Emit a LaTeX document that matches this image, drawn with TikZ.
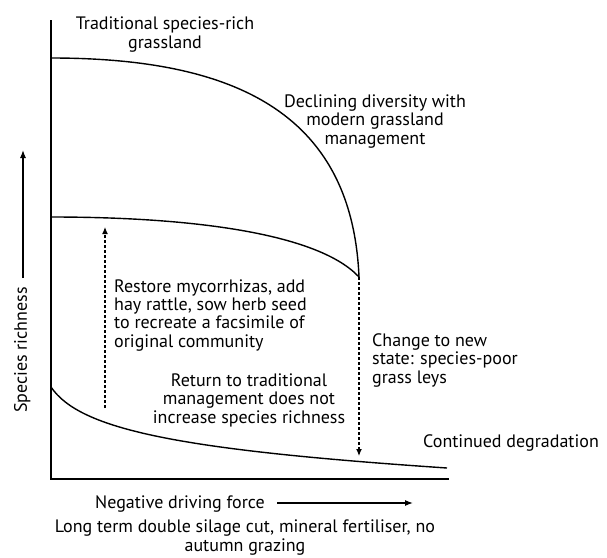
\documentclass[tikz,border=0pt]{standalone}
\usepackage{fontspec}
\setmainfont{PT Sans}
\usetikzlibrary{arrows.meta}
\tikzset{
  lbl/.style={inner sep=0pt, font=\fontsize{18}{18.3}\selectfont},
  curve/.style={line width=1.4pt},
  axis/.style={line width=1.6pt},
  dasharrow/.style={line width=1.2pt, dash pattern=on 3pt off 2pt, -{Latex[length=7pt,width=6pt]}},
  solidarrow/.style={line width=1.2pt, -{Latex[length=8pt,width=6pt]}}
}
\begin{document}
\begin{tikzpicture}[x=1pt,y=-1pt]
\useasboundingbox (0,0) rectangle (607,557);
% axes
\coordinate (ytop) at (51,20);
\coordinate (origin) at (51,479);
\coordinate (xend) at (449,479);
\draw[axis] (ytop) -- (origin) -- (xend);
% curves
\coordinate (t0) at (51,58);
\coordinate (cusp) at (359,277);
\coordinate (m0) at (51,217);
\coordinate (b0) at (51,387);
\coordinate (b1) at (447,468);
\draw[curve] (t0) .. controls (230,58) and (352,110) .. (cusp);
\draw[curve] (m0) .. controls (200,217) and (320,235) .. (cusp);
\draw[curve] (b0) .. controls (80,430) and (180,450) .. (b1);
% dashed arrows
\coordinate (upA) at (105,408);
\coordinate (upB) at (105,227);
\draw[dasharrow] (upA) -- (upB);
\coordinate (downB) at (359,456);
\draw[dasharrow] (cusp) -- (downB);
% y label
\node[lbl, rotate=90, anchor=base] (ylab) at (27,350) {Species richness};
\coordinate (yarA) at (23,278);
\coordinate (yarB) at (23,150);
\draw[solidarrow] (yarA) -- (yarB);
% x label
\node[lbl, anchor=base west] (xlab) at (95,508) {Negative driving force};
\coordinate (xarA) at (277,503);
\coordinate (xarB) at (413,503);
\draw[solidarrow] (xarA) -- (xarB);
\node[lbl, align=center, anchor=base] (xsub) at (245,551) {Long term double silage cut, mineral fertiliser, no\\autumn grazing};
% annotations
\node[lbl, align=center, anchor=base] (trad) at (165,48) {Traditional species-rich\\grassland};
\node[lbl, align=center, anchor=base] (decl) at (375,144) {Declining diversity with\\modern grassland\\management};
\node[lbl, align=left, anchor=base west] (rest) at (114,347) {Restore mycorrhizas, add\\hay rattle, sow herb seed\\to recreate a facsimile of\\original community};
\node[lbl, align=left, anchor=base west] (chg) at (372,383) {Change to new\\state: species-poor\\grass leys};
\node[lbl, align=center, anchor=base] (ret) at (249,423) {Return to traditional\\management does not\\increase species richness};
\node[lbl, anchor=base west] (cont) at (423,447) {Continued degradation};
\end{tikzpicture}
\end{document}
